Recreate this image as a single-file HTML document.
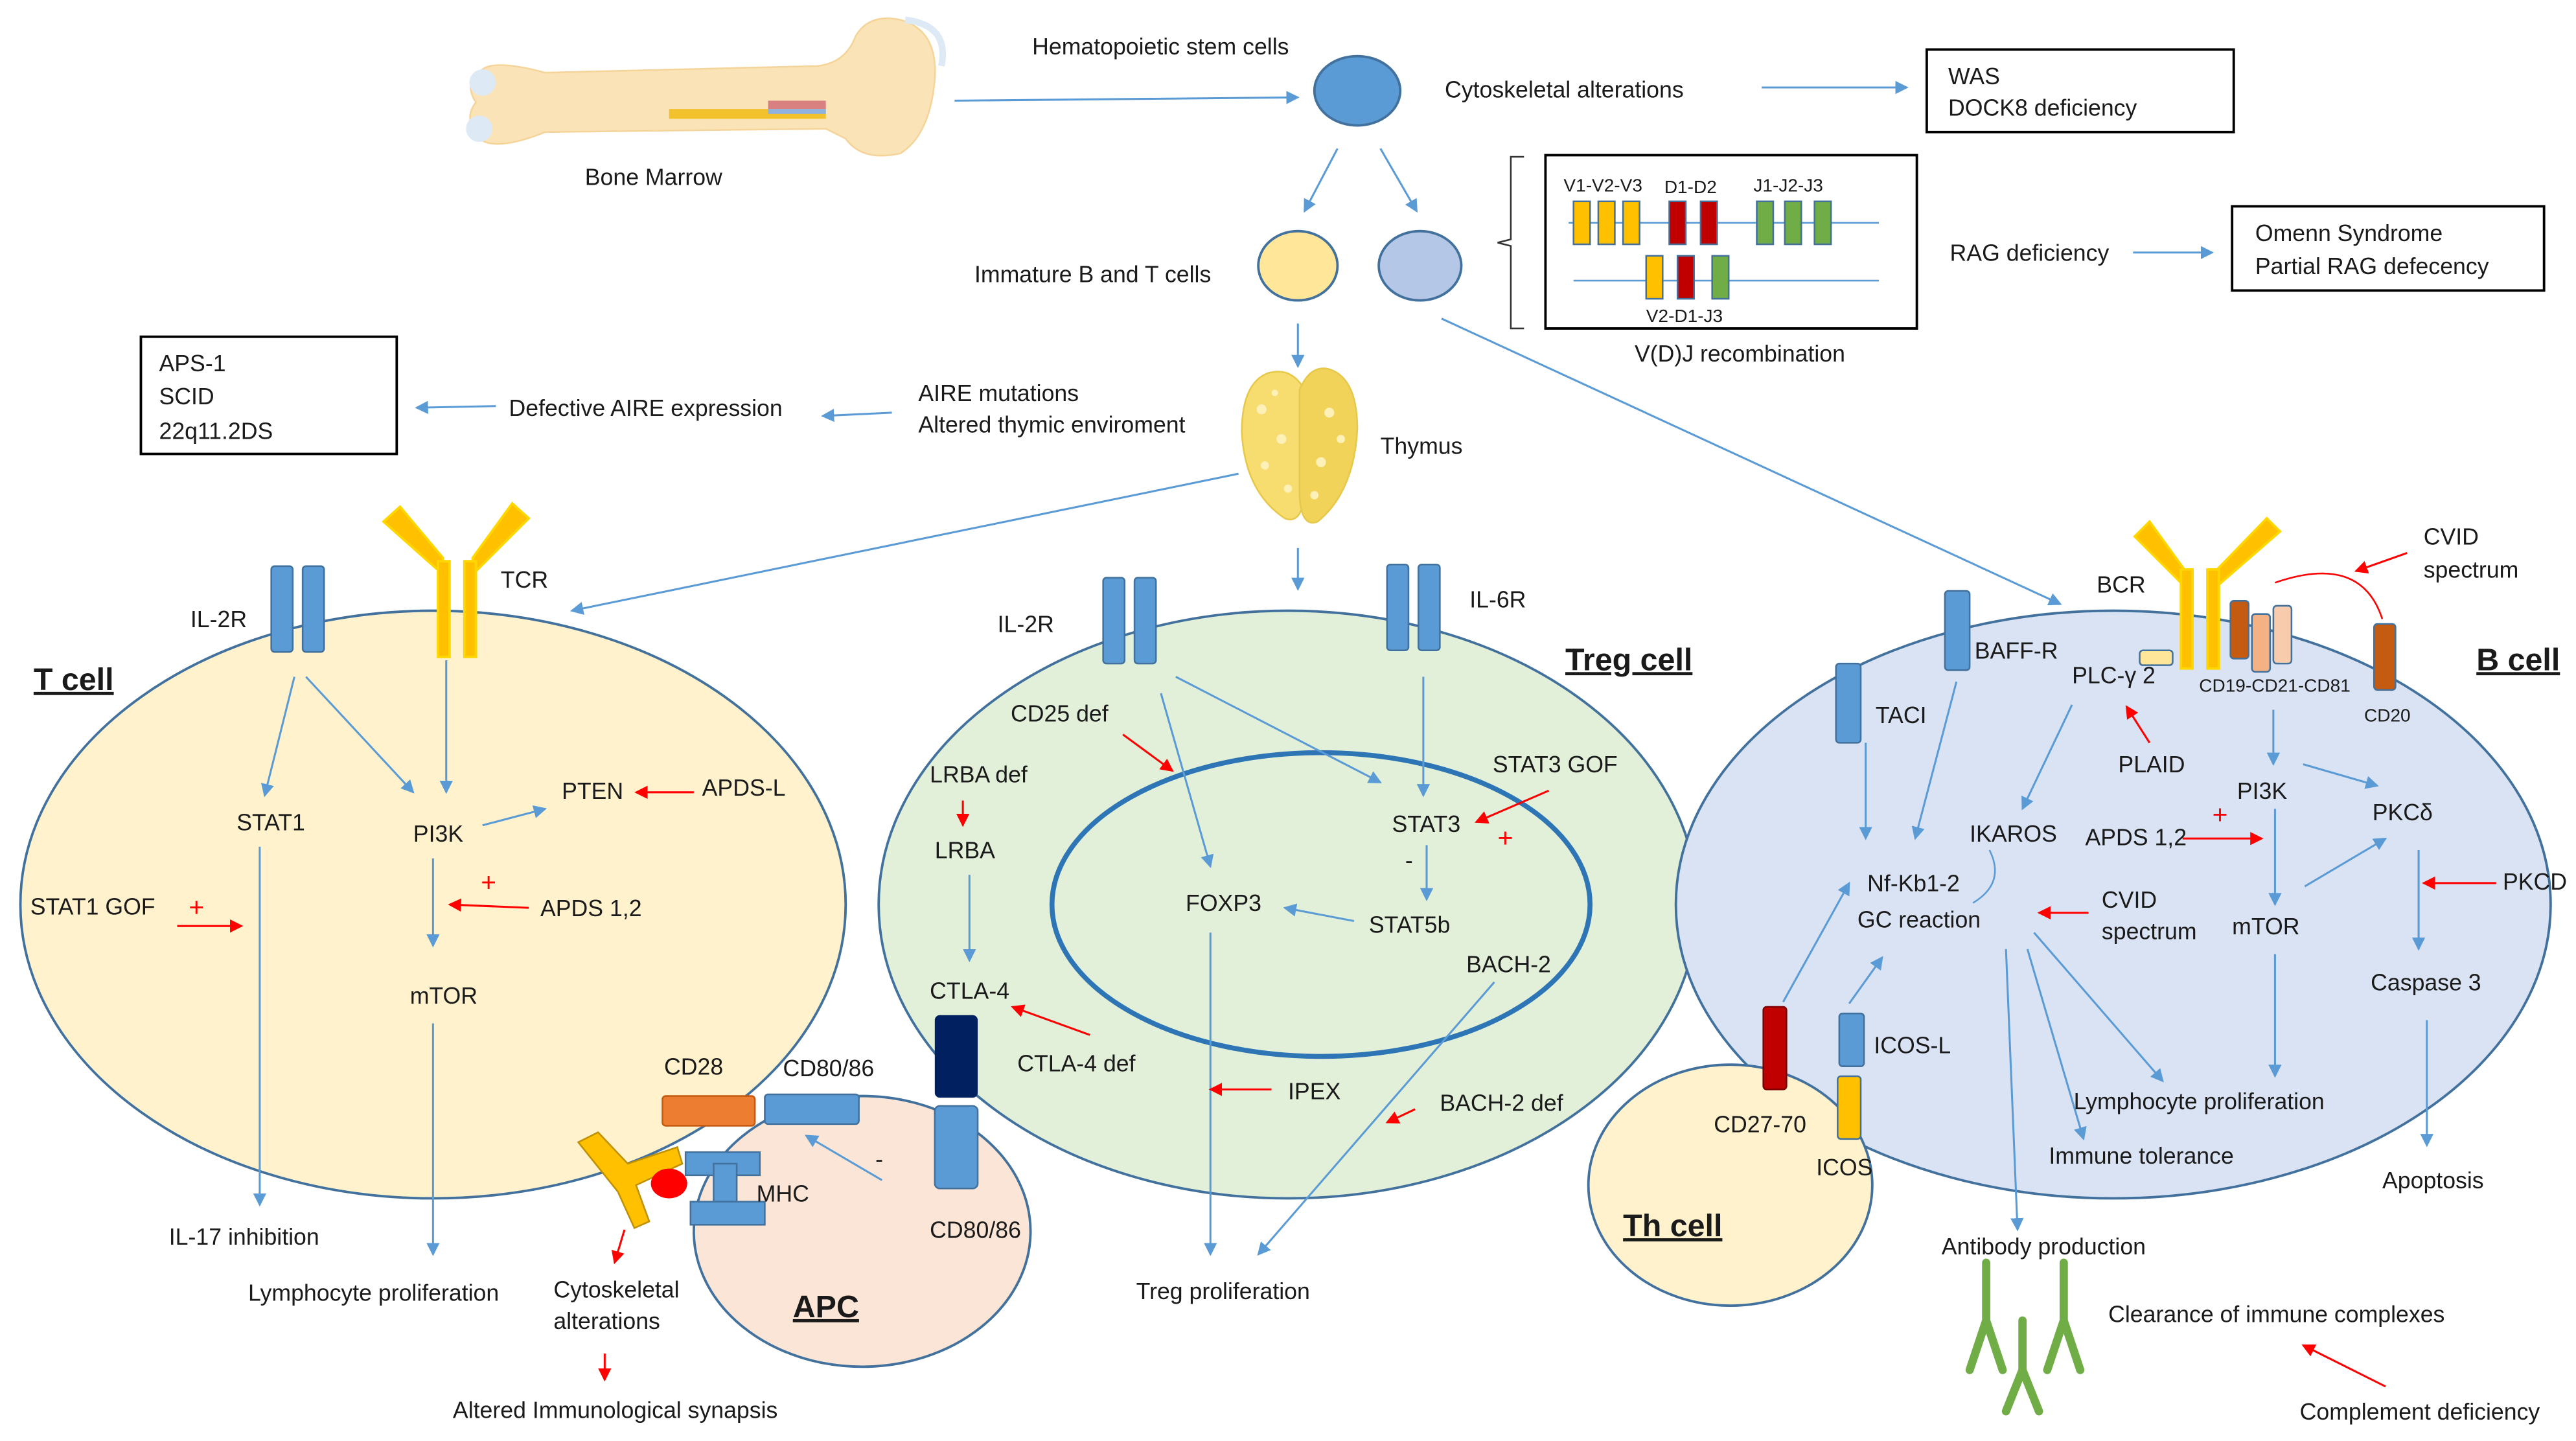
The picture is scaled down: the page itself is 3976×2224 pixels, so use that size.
<!DOCTYPE html>
<html><head><meta charset="utf-8"><style>
html,body{margin:0;padding:0;background:#fff;}
svg{display:block;}
text{font-family:"Liberation Sans",sans-serif;font-size:14px;fill:#1a1a1a;}
.b{font-weight:bold;font-size:19px;text-decoration:underline;}
.s{font-size:11px;}
</style></head><body>
<svg width="3976" height="2224" viewBox="0 0 1560 873" xmlns="http://www.w3.org/2000/svg">
<defs>
<marker id="ab" markerWidth="8" markerHeight="8" refX="7" refY="4" orient="auto" markerUnits="userSpaceOnUse"><path d="M0,0 L8,4 L0,8 z" fill="#5b9bd5"/></marker>
<marker id="ar" markerWidth="8" markerHeight="8" refX="7" refY="4" orient="auto" markerUnits="userSpaceOnUse"><path d="M0,0 L8,4 L0,8 z" fill="#ff0000"/></marker>
</defs>
<!-- cells -->
<ellipse cx="262" cy="548" rx="250" ry="178" fill="#fff2cc" stroke="#41719c" stroke-width="1.5"/>
<ellipse cx="780" cy="548" rx="248" ry="178" fill="#e2f0d9" stroke="#41719c" stroke-width="1.5"/>
<ellipse cx="800" cy="548" rx="163" ry="92" fill="none" stroke="#2e75b6" stroke-width="3"/>
<ellipse cx="1280" cy="548" rx="265" ry="178" fill="#dae3f3" stroke="#41719c" stroke-width="1.5"/>
<ellipse cx="522" cy="746" rx="102" ry="82" fill="#fbe5d6" stroke="#41719c" stroke-width="1.5"/>
<ellipse cx="1048" cy="718" rx="86" ry="73" fill="#fff2cc" stroke="#41719c" stroke-width="1.5"/>

<!-- bone -->
<g>
<path d="M292,42 Q300,36 330,44 L495,40 Q512,38 518,22 Q526,8 545,12 Q568,18 566,48 Q563,82 545,93 Q522,98 512,84 L500,78 L330,80 Q300,92 290,84 Q280,72 288,62 Q280,50 292,42 z" fill="#fbe3b8" stroke="#f5d49a"/>
<rect x="405" y="66" width="95" height="6" fill="#f2c12e"/>
<rect x="465" y="61" width="35" height="5" fill="#d98080"/>
<rect x="465" y="66" width="35" height="3" fill="#8fb3de"/>
<circle cx="292" cy="50" r="8" fill="#ddeaf5"/><circle cx="290" cy="78" r="8" fill="#ddeaf5"/>
<path d="M548,12 Q575,15 570,40" stroke="#ddeaf5" stroke-width="4" fill="none"/>
</g>
<text x="354" y="112">Bone Marrow</text>
<text x="625" y="33">Hematopoietic stem cells</text>
<ellipse cx="822" cy="55" rx="26" ry="21" fill="#5b9bd5" stroke="#41719c" stroke-width="1.5"/>
<text x="875" y="59">Cytoskeletal alterations</text>
<rect x="1167" y="30" width="186" height="50" fill="#fff" stroke="#000" stroke-width="1.5"/>
<text x="1180" y="51">WAS</text><text x="1180" y="70">DOCK8 deficiency</text>
<ellipse cx="786" cy="161" rx="24" ry="21" fill="#ffe699" stroke="#41719c" stroke-width="1.5"/>
<ellipse cx="860" cy="161" rx="25" ry="21" fill="#b4c7e7" stroke="#41719c" stroke-width="1.5"/>
<text x="590" y="171">Immature B and T cells</text>
<path d="M923,95 L915,95 L915,145 L907,147 L915,149 L915,199 L923,199" fill="none" stroke="#333"/>
<rect x="936" y="94" width="225" height="105" fill="#fff" stroke="#000" stroke-width="1.5"/>
<text x="947" y="116" class="s">V1-V2-V3</text><text x="1008" y="117" class="s">D1-D2</text><text x="1062" y="116" class="s">J1-J2-J3</text>
<line x1="950" y1="135" x2="1138" y2="135" stroke="#5b9bd5"/>
<line x1="953" y1="170" x2="1138" y2="170" stroke="#5b9bd5"/>
<g stroke="#41719c">
<rect x="953" y="122" width="10" height="26" fill="#ffc000"/><rect x="968" y="122" width="10" height="26" fill="#ffc000"/><rect x="983" y="122" width="10" height="26" fill="#ffc000"/>
<rect x="1011" y="122" width="10" height="26" fill="#c00000"/><rect x="1030" y="122" width="10" height="26" fill="#c00000"/>
<rect x="1064" y="122" width="10" height="26" fill="#70ad47"/><rect x="1081" y="122" width="10" height="26" fill="#70ad47"/><rect x="1099" y="122" width="10" height="26" fill="#70ad47"/>
<rect x="997" y="155" width="10" height="26" fill="#ffc000"/><rect x="1016" y="155" width="10" height="26" fill="#c00000"/><rect x="1037" y="155" width="10" height="26" fill="#70ad47"/>
</g>
<text x="997" y="195" class="s">V2-D1-J3</text>
<text x="990" y="219">V(D)J recombination</text>
<text x="1181" y="158">RAG deficiency</text>
<rect x="1352" y="125" width="189" height="51" fill="#fff" stroke="#000" stroke-width="1.5"/>
<text x="1366" y="146">Omenn Syndrome</text><text x="1366" y="166">Partial RAG defecency</text>
<!-- thymus -->
<path d="M768,226 Q752,232 752,262 Q754,298 778,314 Q788,318 790,300 L790,236 Q782,222 768,226 z" fill="#f7dc6f" stroke="#e6c84a"/>
<path d="M806,224 Q822,230 822,260 Q820,298 798,316 Q788,320 787,300 L787,236 Q794,220 806,224 z" fill="#f2d35a" stroke="#e6c84a"/>
<g fill="#fdf1b8"><circle cx="764" cy="248" r="3"/><circle cx="776" cy="266" r="3"/><circle cx="766" cy="282" r="2.5"/><circle cx="805" cy="250" r="3"/><circle cx="800" cy="280" r="3"/><circle cx="812" cy="266" r="2.5"/><circle cx="780" cy="296" r="2.5"/><circle cx="796" cy="300" r="2.5"/><circle cx="772" cy="238" r="2"/></g>
<text x="836" y="275">Thymus</text>
<text x="556" y="243">AIRE mutations</text><text x="556" y="262">Altered thymic enviroment</text>
<text x="308" y="252">Defective AIRE expression</text>
<rect x="85" y="204" width="155" height="71" fill="#fff" stroke="#000" stroke-width="1.5"/>
<text x="96" y="225">APS-1</text><text x="96" y="245">SCID</text><text x="96" y="266">22q11.2DS</text>

<!-- blue arrows -->
<g stroke="#5b9bd5" stroke-width="1.2" fill="none" marker-end="url(#ab)">
<line x1="578" y1="61" x2="786" y2="59"/>
<line x1="1067" y1="53" x2="1155" y2="53"/>
<line x1="810" y1="90" x2="790" y2="128"/>
<line x1="836" y1="90" x2="858" y2="128"/>
<line x1="1292" y1="153" x2="1340" y2="153"/>
<line x1="786" y1="196" x2="786" y2="222"/>
<line x1="540" y1="250" x2="498" y2="252"/>
<line x1="300" y1="246" x2="252" y2="247"/>
<line x1="750" y1="287" x2="346" y2="370"/>
<line x1="786" y1="332" x2="786" y2="357"/>
<line x1="873" y1="193" x2="1248" y2="366"/>
<line x1="178" y1="410" x2="160" y2="482"/>
<line x1="185" y1="410" x2="250" y2="480"/>
<line x1="270" y1="400" x2="270" y2="480"/>
<line x1="292" y1="500" x2="330" y2="490"/>
<line x1="262" y1="520" x2="262" y2="573"/>
<line x1="157" y1="513" x2="157" y2="730"/>
<line x1="262" y1="620" x2="262" y2="760"/>
<line x1="534" y1="715" x2="488" y2="688"/>
<line x1="703" y1="420" x2="733" y2="525"/>
<line x1="712" y1="410" x2="836" y2="474"/>
<line x1="862" y1="410" x2="862" y2="482"/>
<line x1="864" y1="512" x2="864" y2="545"/>
<line x1="820" y1="558" x2="778" y2="550"/>
<line x1="587" y1="530" x2="587" y2="582"/>
<line x1="733" y1="565" x2="733" y2="760"/>
<line x1="905" y1="595" x2="762" y2="760"/>
<line x1="1185" y1="413" x2="1160" y2="508"/>
<line x1="1130" y1="450" x2="1130" y2="508"/>
<line x1="1255" y1="427" x2="1225" y2="490"/>
<line x1="1377" y1="430" x2="1377" y2="463"/>
<line x1="1395" y1="463" x2="1440" y2="476"/>
<line x1="1378" y1="490" x2="1378" y2="548"/>
<line x1="1396" y1="537" x2="1445" y2="508"/>
<line x1="1465" y1="515" x2="1465" y2="575"/>
<line x1="1470" y1="618" x2="1470" y2="694"/>
<line x1="1378" y1="578" x2="1378" y2="652"/>
<line x1="1080" y1="607" x2="1120" y2="535"/>
<line x1="1120" y1="608" x2="1140" y2="580"/>
<line x1="1232" y1="565" x2="1310" y2="655"/>
<line x1="1228" y1="575" x2="1262" y2="690"/>
<line x1="1215" y1="575" x2="1222" y2="745"/>
</g>
<path d="M1195,547 Q1215,535 1205,515" stroke="#5b9bd5" fill="none"/>

<!-- red arrows -->
<g stroke="#ff0000" stroke-width="1.2" fill="none" marker-end="url(#ar)">
<line x1="420" y1="480" x2="385" y2="480"/>
<line x1="320" y1="550" x2="272" y2="548"/>
<line x1="107" y1="561" x2="146" y2="561"/>
<line x1="378" y1="745" x2="372" y2="765"/>
<line x1="366" y1="820" x2="366" y2="836"/>
<line x1="680" y1="445" x2="710" y2="467"/>
<line x1="583" y1="485" x2="583" y2="500"/>
<line x1="938" y1="479" x2="894" y2="498"/>
<line x1="660" y1="627" x2="613" y2="610"/>
<line x1="770" y1="660" x2="733" y2="660"/>
<line x1="857" y1="672" x2="840" y2="680"/>
<line x1="1458" y1="335" x2="1427" y2="346"/>
<line x1="1302" y1="450" x2="1288" y2="428"/>
<line x1="1322" y1="508" x2="1370" y2="508"/>
<line x1="1265" y1="553" x2="1235" y2="553"/>
<line x1="1512" y1="535" x2="1468" y2="535"/>
<line x1="1445" y1="840" x2="1395" y2="815"/>
</g>
<path d="M1378,353 Q1430,335 1443,375" stroke="#ff0000" fill="none"/>
<text x="114" y="555" style="fill:#f00;font-size:16px">+</text><text x="291" y="540" style="fill:#f00;font-size:16px">+</text><text x="907" y="513" style="fill:#f00;font-size:16px">+</text><text x="1340" y="499" style="fill:#f00;font-size:16px">+</text>

<!-- receptors -->
<g fill="#5b9bd5" stroke="#41719c">
<rect x="164" y="343" width="13" height="52" rx="2"/><rect x="183" y="343" width="13" height="52" rx="2"/>
<rect x="668" y="350" width="13" height="52" rx="2"/><rect x="687" y="350" width="13" height="52" rx="2"/>
<rect x="840" y="342" width="13" height="52" rx="2"/><rect x="859" y="342" width="13" height="52" rx="2"/>
<rect x="1178" y="358" width="15" height="48" rx="2"/>
<rect x="1112" y="402" width="15" height="48" rx="2"/>
<rect x="1114" y="614" width="15" height="32" rx="2"/>
<rect x="463" y="663" width="57" height="18" rx="2"/>
<rect x="566" y="670" width="26" height="50" rx="3"/>
<rect x="415" y="698" width="45" height="14"/><rect x="432" y="705" width="14" height="30"/><rect x="418" y="728" width="45" height="14"/>
</g>
<rect x="566" y="615" width="26" height="50" rx="3" fill="#002060"/>
<rect x="401" y="664" width="56" height="18" rx="2" fill="#ed7d31" stroke="#c55a11"/>
<path d="M350,692 L362,686 L380,705 L410,695 L413,705 L385,718 L393,740 L384,744 L374,722 Z" fill="#ffc000" stroke="#bf9000"/>
<ellipse cx="405" cy="717" rx="11" ry="9" fill="#ff0000"/>
<rect x="1068" y="610" width="14" height="50" rx="2" fill="#c00000" stroke="#7f0000"/>
<rect x="1113" y="652" width="14" height="38" rx="2" fill="#ffc000" stroke="#41719c"/>
<g fill="#ffc000" stroke="#ffd700" stroke-width="1.5">
<path d="M232,316 L242,307 L268,338 L268,348 Z"/><path d="M310,305 L320,314 L286,348 L286,338 Z"/>
<rect x="265" y="340" width="7" height="58"/><rect x="281" y="340" width="7" height="58"/>
<path d="M1293,325 L1302,316 L1323,345 L1323,355 Z"/><path d="M1373,314 L1381,322 L1343,355 L1343,345 Z"/>
<rect x="1321" y="345" width="7" height="60"/><rect x="1337" y="345" width="7" height="60"/>
</g>
<rect x="1296" y="394" width="20" height="9" rx="2" fill="#ffe699" stroke="#41719c"/>
<rect x="1351" y="364" width="11" height="35" rx="2" fill="#c55a11" stroke="#41719c"/>
<rect x="1364" y="372" width="11" height="35" rx="2" fill="#f4b183" stroke="#41719c"/>
<rect x="1377" y="367" width="11" height="35" rx="2" fill="#f8cbad" stroke="#41719c"/>
<rect x="1438" y="378" width="13" height="40" rx="2" fill="#c55a11" stroke="#41719c"/>
<g stroke="#70ad47" stroke-width="5" fill="none" stroke-linecap="round">
<path d="M1203,765 L1203,800 M1193,830 L1203,800 L1213,830"/>
<path d="M1225,800 L1225,830 M1215,855 L1225,830 L1235,855"/>
<path d="M1250,765 L1250,800 M1240,830 L1250,800 L1260,830"/>
</g>

<!-- texts -->
<text x="20" y="418" class="b">T cell</text>
<text x="115" y="380">IL-2R</text><text x="303" y="356">TCR</text>
<text x="143" y="503">STAT1</text><text x="250" y="510">PI3K</text><text x="340" y="484">PTEN</text><text x="425" y="482">APDS-L</text>
<text x="18" y="554">STAT1 GOF</text><text x="327" y="555">APDS 1,2</text><text x="248" y="608">mTOR</text>
<text x="102" y="754">IL-17 inhibition</text><text x="150" y="788">Lymphocyte proliferation</text>
<text x="402" y="651">CD28</text><text x="474" y="652">CD80/86</text><text x="458" y="728">MHC</text><text x="530" y="707">-</text><text x="563" y="750">CD80/86</text>
<text x="335" y="786">Cytoskeletal</text><text x="335" y="805">alterations</text>
<text x="274" y="859">Altered Immunological synapsis</text>
<text x="480" y="798" class="b">APC</text>
<text x="604" y="383">IL-2R</text><text x="890" y="368">IL-6R</text><text x="948" y="406" class="b">Treg cell</text>
<text x="612" y="437">CD25 def</text><text x="563" y="474">LRBA def</text><text x="566" y="520">LRBA</text>
<text x="904" y="468">STAT3 GOF</text><text x="843" y="504">STAT3</text><text x="851" y="526">-</text>
<text x="718" y="552">FOXP3</text><text x="829" y="565">STAT5b</text><text x="888" y="589">BACH-2</text>
<text x="563" y="605">CTLA-4</text><text x="616" y="649">CTLA-4 def</text><text x="780" y="666">IPEX</text><text x="872" y="673">BACH-2 def</text>
<text x="688" y="787">Treg proliferation</text>
<text x="1270" y="359">BCR</text><text x="1468" y="330">CVID</text><text x="1468" y="350">spectrum</text>
<text x="1196" y="399">BAFF-R</text><text x="1500" y="406" class="b">B cell</text>
<text x="1136" y="438">TACI</text><text x="1255" y="414">PLC-γ 2</text><text x="1332" y="419" class="s">CD19-CD21-CD81</text><text x="1432" y="437" class="s">CD20</text>
<text x="1283" y="468">PLAID</text><text x="1355" y="484">PI3K</text><text x="1437" y="497">PKCδ</text>
<text x="1193" y="510">IKAROS</text><text x="1263" y="512">APDS 1,2</text>
<text x="1131" y="540">Nf-Kb1-2</text><text x="1125" y="562">GC reaction</text>
<text x="1273" y="550">CVID</text><text x="1273" y="569">spectrum</text><text x="1352" y="566">mTOR</text><text x="1516" y="539">PKCD</text>
<text x="1436" y="600">Caspase 3</text><text x="1135" y="638">ICOS-L</text><text x="1256" y="672">Lymphocyte proliferation</text>
<text x="1038" y="686">CD27-70</text><text x="1100" y="712">ICOS</text><text x="1241" y="705">Immune tolerance</text><text x="1443" y="720">Apoptosis</text>
<text x="983" y="749" class="b">Th cell</text>
<text x="1176" y="760">Antibody production</text><text x="1277" y="801">Clearance of immune complexes</text><text x="1393" y="860">Complement deficiency</text>
</svg>
</body></html>
